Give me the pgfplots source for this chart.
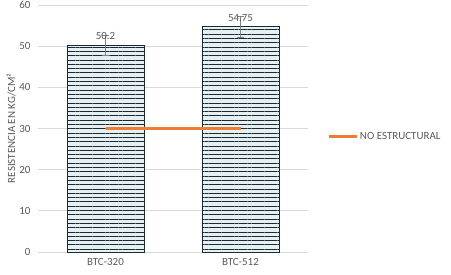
\documentclass[border=0pt]{standalone}
\usepackage{pgfplots}
\pgfplotsset{compat=1.18}
\usepackage{fontspec}
\setmainfont{Carlito}
\usetikzlibrary{patterns.meta}
\definecolor{txt}{HTML}{595959}
\definecolor{gridc}{HTML}{D9D9D9}
\definecolor{orng}{HTML}{ED7D31}
\definecolor{barfill}{HTML}{E4F0F2}
\definecolor{barline}{HTML}{1E2A33}
\begin{document}
\begin{tikzpicture}
\useasboundingbox (0,0) rectangle (451bp,275bp);
\begin{axis}[
  at={(38bp,23bp)}, anchor=south west,
  scale only axis, width=270bp, height=247bp,
  xmin=-0.5, xmax=1.5, ymin=0, ymax=60,
  xtick={0,1}, xticklabels={BTC-320,BTC-512},
  ytick={0,10,...,60},
  ymajorgrids, grid style={gridc, line width=0.8bp},
  axis line style={draw=none},
  major tick length=0pt,
  tick label style={font=\fontsize{11}{12}\selectfont, text=txt},
  /pgf/number format/assume math mode=true,
  xticklabel style={yshift=-3bp},
  yticklabel style={xshift=-4bp},
  ylabel={RESISTENCIA EN KG/CM²},
  ylabel style={font=\fontsize{11}{12}\selectfont, text=txt, yshift=-3bp},
  legend style={at={(1,0.466)}, anchor=west, xshift=19bp, draw=none, fill=none,
    font=\fontsize{11}{12}\selectfont, text=txt, legend cell align=left,
    inner sep=0pt, outer sep=0pt},
  legend image code/.code={\draw[#1, line width=3bp] (0bp,0bp) -- (28bp,0bp);},
  clip=false,
]
\addplot[gridc, line width=0.8bp, mark=none, forget plot] coordinates {(-0.5,0) (1.5,0)};
\addplot[ybar, bar width=77bp, draw=barline, line width=0.8bp, fill=barfill,
  postaction={pattern={Lines[angle=0,distance=4.3bp,line width=0.9bp]}, pattern color=barline},
  forget plot]
  coordinates {(0,50.2) (1,54.75)};
\addplot[black!50, line width=0.6bp, mark=-, mark size=3.5bp, forget plot]
  coordinates {(0,47.7) (0,52.7)};
\addplot[black!50, line width=0.6bp, mark=-, mark size=3.5bp, forget plot]
  coordinates {(1,52.25) (1,57.25)};
\addplot[draw=none, mark=none, forget plot,
  nodes near coords, point meta=y,
  nodes near coords style={font=\fontsize{11}{12}\selectfont, text=txt, anchor=south, yshift=2bp,
    /pgf/number format/.cd, fixed, precision=2}]
  coordinates {(0,50.2) (1,54.75)};
\addplot[orng, line width=3bp, mark=none] coordinates {(0,30) (1,30)};
\addlegendentry{NO ESTRUCTURAL}
\end{axis}
\end{tikzpicture}
\end{document}
